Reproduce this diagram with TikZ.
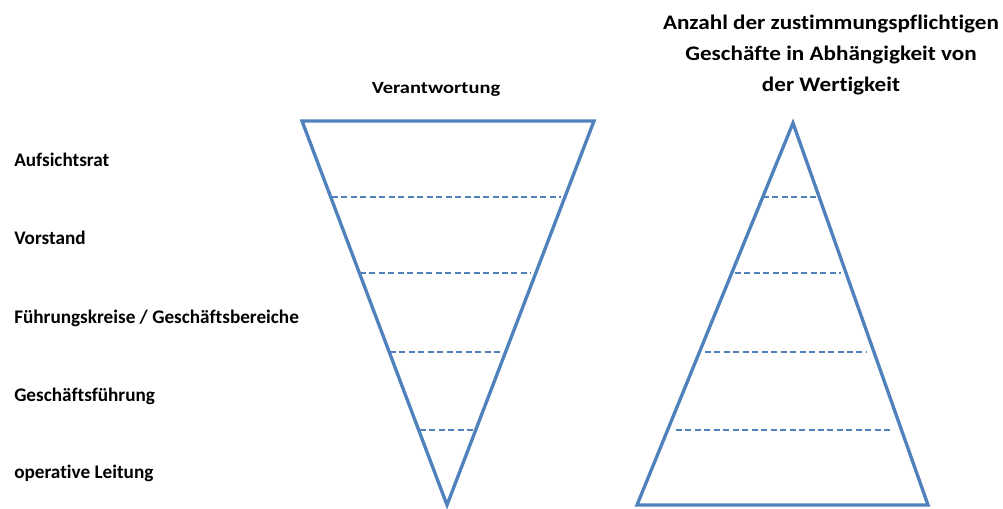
\documentclass[tikz,border=0pt]{standalone}
\usepackage{fontspec}
\setmainfont{Carlito}[Ligatures=NoCommon]
\newfontfamily\headfont[FakeStretch=1.2,Ligatures=NoCommon]{Carlito}
\newfontfamily\titlefont[FakeStretch=1.12,Ligatures=NoCommon]{Carlito}
\definecolor{pyrblue}{RGB}{79,129,189}
\usetikzlibrary{positioning}

\begin{document}
\begin{tikzpicture}[x=0.75pt, y=-0.75pt,
      tri/.style={draw=pyrblue, line width=2.5pt, line join=miter},
      level/.style={draw=pyrblue, line width=1.5pt, dash pattern=on 4.5pt off 2.6pt},
      lbl/.style={font=\fontsize{14.4pt}{16pt}\selectfont\bfseries, anchor=mid west, inner sep=0pt},
      head/.style={font=\headfont\fontsize{12.8pt}{15pt}\selectfont\bfseries, inner sep=0pt},
      title/.style={font=\titlefont\fontsize{15.5pt}{23.3pt}\selectfont\bfseries, align=center, inner sep=0pt}
    ]
    \useasboundingbox (0,0) rectangle (1003,509);

    % Verantwortung (umgekehrt)
    \coordinate (vl) at (302,121);
    \coordinate (vr) at (594,121);
    \coordinate (vs) at (447,505);
    \draw[tri] (vl) -- (vr) -- (vs) -- cycle;
    \draw[level] (332,197) -- (561,197);
    \draw[level] (360,273) -- (531,273);
    \draw[level] (390,352) -- (502,352);
    \draw[level] (420,430) -- (473,430);

    % Zustimmungspflichtige Geschaefte
    \coordinate (ws) at (793,123);
    \coordinate (wl) at (637,505);
    \coordinate (wr) at (928,505);
    \draw[tri] (ws) -- (wr) -- (wl) -- cycle;
    \draw[level] (763,197) -- (820,197);
    \draw[level] (735,273) -- (841,273);
    \draw[level] (705,352) -- (866,352);
    \draw[level] (676,430) -- (893,430);

    \node[head]  (verant) at (436,89) {Verantwortung};
    \node[title] (anzahl) at (831,55) {Anzahl der zustimmungspflichtigen\\Geschäfte in Abhängigkeit von\\der Wertigkeit};

    \node[lbl] (ar)  at (14,163) {Aufsichtsrat};
    \node[lbl] (vst) at (14,241) {Vorstand};
    \node[lbl] (fk)  at (14,320) {Führungskreise / Geschäftsbereiche};
    \node[lbl] (gf)  at (14,398) {Geschäftsführung};
    \node[lbl] (ol)  at (14,475) {operative Leitung};
  \end{tikzpicture}
\end{document}
